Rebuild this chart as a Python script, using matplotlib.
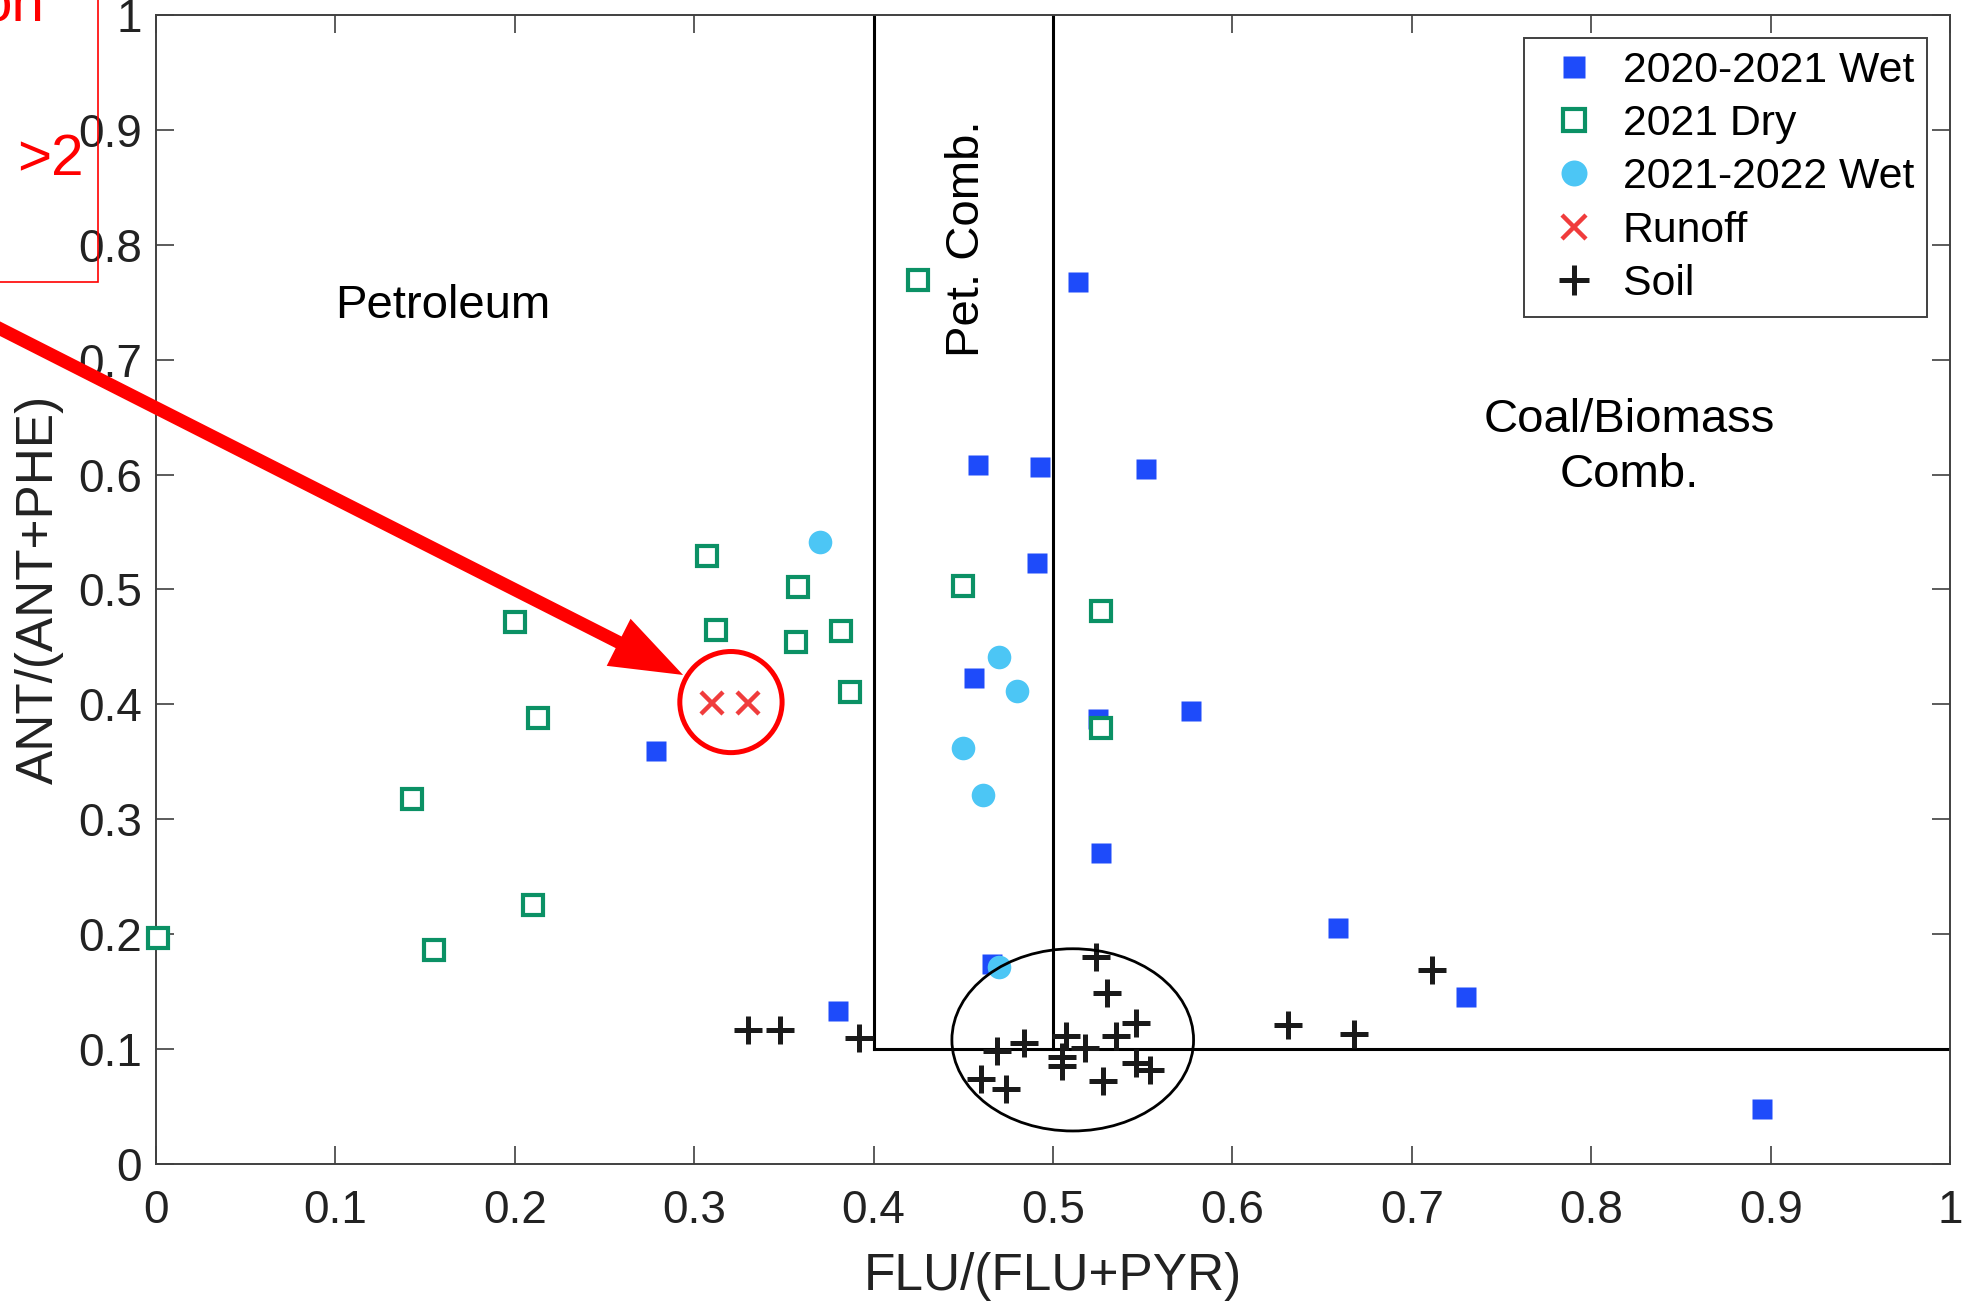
import matplotlib.pyplot as plt
from matplotlib.patches import Ellipse, Rectangle

plt.rcParams['font.family'] = ['Liberation Sans', 'DejaVu Sans']

# 2020-2021 Wet (filled blue squares)
wet2021_x = [0.514, 0.458, 0.493, 0.552, 0.491, 0.456, 0.525, 0.577, 0.279, 0.527, 0.659, 0.466, 0.730, 0.380, 0.895]
wet2021_y = [0.768, 0.608, 0.607, 0.605, 0.523, 0.423, 0.387, 0.394, 0.359, 0.271, 0.205, 0.174, 0.145, 0.133, 0.048]

# 2021 Dry (open green squares)
dry_x = [0.425, 0.307, 0.358, 0.450, 0.200, 0.312, 0.382, 0.357, 0.527, 0.387, 0.213, 0.527, 0.143, 0.210, 0.155, 0.001]
dry_y = [0.769, 0.529, 0.502, 0.503, 0.472, 0.465, 0.464, 0.454, 0.481, 0.411, 0.388, 0.379, 0.318, 0.225, 0.186, 0.197]

# 2021-2022 Wet (light blue circles)
wet2022_x = [0.370, 0.470, 0.480, 0.450, 0.461, 0.470]
wet2022_y = [0.541, 0.441, 0.412, 0.362, 0.321, 0.171]

# Runoff
runoff_x = [0.310, 0.330]
runoff_y = [0.401, 0.401]

# Soil
soil_x = [0.330, 0.348, 0.392, 0.524, 0.530, 0.546, 0.535, 0.5075, 0.518, 0.484, 0.469, 0.505, 0.505,
          0.460, 0.474, 0.528, 0.546, 0.554, 0.631, 0.668, 0.711]
soil_y = [0.117, 0.117, 0.110, 0.180, 0.149, 0.123, 0.111, 0.1115, 0.101, 0.105, 0.098, 0.093, 0.085,
          0.074, 0.065, 0.072, 0.088, 0.082, 0.121, 0.113, 0.169]

fig = plt.figure(figsize=(9.82, 6.52), dpi=200)
ax = fig.add_axes([0.0794, 0.1074, 0.9135, 0.8811])

# source boundaries
ax.plot([0.4, 0.4], [0.1, 1.0], color='black', lw=1.1, zorder=2)
ax.plot([0.5, 0.5], [0.1, 1.0], color='black', lw=1.1, zorder=2)
ax.plot([0.4, 1.0], [0.1, 0.1], color='black', lw=1.1, zorder=2)

ax.plot(wet2021_x, wet2021_y, 's', color='#1E4BFA', ms=7, mec='none', label='2020-2021 Wet',
        zorder=3, clip_on=False)
ax.plot(dry_x, dry_y, 's', mfc='white', mec='#0B9165', mew=1.5, ms=7.5, label='2021 Dry',
        zorder=3, clip_on=False)
ax.plot(wet2022_x, wet2022_y, 'o', color='#4CC6F5', ms=8.5, mec='none', label='2021-2022 Wet',
        zorder=4, clip_on=False)
ax.plot(runoff_x, runoff_y, 'x', color='#F03C3C', ms=8, mew=1.6, label='Runoff', zorder=4)
ax.plot(soil_x, soil_y, '+', color='#1a1a1a', ms=10, mew=1.8, label='Soil', zorder=4)

# highlight circles
ax.add_patch(Ellipse((0.511, 0.108), 0.1347, 0.1586, fill=False, ec='black', lw=1.0, zorder=5))
ax.add_patch(Ellipse((0.3205, 0.402), 0.057, 0.088, fill=False, ec='red', lw=1.8, zorder=5))

ax.annotate('', xy=(0.2938, 0.4256), xytext=(-0.10, 0.7373),
            arrowprops=dict(arrowstyle='simple,head_length=2.6,head_width=1.9,tail_width=0.47',
                            fc='red', ec='none', lw=0, mutation_scale=10, shrinkA=0, shrinkB=0),
            annotation_clip=False, zorder=6)

# region labels
ax.text(0.16, 0.747, 'Petroleum', fontsize=17, ha='center', va='center')
ax.text(0.452, 0.805, 'Pet. Comb.', fontsize=17, ha='center', va='center', rotation=90)
ax.text(0.821, 0.6236, 'Coal/Biomass\nComb.', fontsize=17, ha='center', va='center', linespacing=1.35)

ax.set_xlim(0, 1)
ax.set_ylim(0, 1)
ticks = [0, 0.1, 0.2, 0.3, 0.4, 0.5, 0.6, 0.7, 0.8, 0.9, 1]
tick_labels = ['0', '0.1', '0.2', '0.3', '0.4', '0.5', '0.6', '0.7', '0.8', '0.9', '1']
ax.set_xticks(ticks)
ax.set_xticklabels(tick_labels)
ax.set_yticks(ticks)
ax.set_yticklabels(tick_labels)
ax.tick_params(direction='in', top=True, right=True, length=6.5, width=0.6, color='#404040',
               labelsize=16.5, labelcolor='#222222')
ax.tick_params(axis='x', pad=9)
ax.tick_params(axis='y', pad=5)
for s in ax.spines.values():
    s.set_color('#404040')
    s.set_linewidth(0.7)

ax.set_xlabel('FLU/(FLU+PYR)', fontsize=18.5, color='#222222', labelpad=7)
ax.set_ylabel('ANT/(ANT+PHE)', fontsize=18.5, color='#222222', labelpad=5)

leg = ax.legend(loc='upper right', bbox_to_anchor=(0.987, 0.980), fontsize=15.4, fancybox=False,
                framealpha=1, edgecolor='#404040', borderpad=0.3, labelspacing=0.31,
                handletextpad=0.25, handlelength=1.75, borderaxespad=0, markerscale=1.1)
leg.get_frame().set_linewidth(0.7)

# cropped annotation box in the top-left corner
fig.patches.append(Rectangle((-0.01, 0.784), 0.0597, 0.3, transform=fig.transFigure,
                             fill=False, ec='red', lw=0.6))
fig.text(-20 / 1964, (1304 - 22) / 1304, 'on', color='red', fontsize=21, ha='left', va='baseline')
fig.text(17 / 1964, (1304 - 175) / 1304, '>2', color='red', fontsize=21, ha='left', va='baseline')

fig.savefig('out.png', dpi=200)
